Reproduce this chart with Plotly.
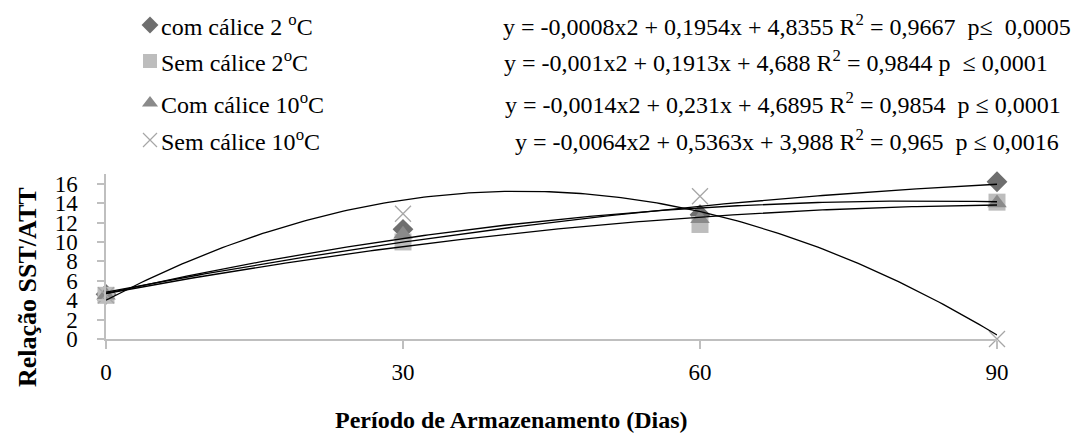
import plotly.graph_objects as go
import numpy as np

# ---- data ----
days = [0, 30, 60, 90]
com_2 = [4.6, 11.3, 12.8, 16.2]
sem_2 = [4.5, 10.0, 11.8, 14.1]
com_10 = [4.5, 10.8, 12.4, 14.0]
sem_10 = [4.5, 12.9, 14.7, 0.0]

series_names = ["com cálice 2 <sup>o</sup>C", "Sem cálice 2<sup>o</sup>C",
                "Com cálice 10<sup>o</sup>C", "Sem cálice 10<sup>o</sup>C"]
# quadratic trendline coefficients (a, b, c) as printed
coef_a = [-0.0008, -0.001, -0.0014, -0.0064]
coef_b = [0.1954, 0.1913, 0.231, 0.5363]
coef_c = [4.8355, 4.688, 4.6895, 3.988]
equations = [
    "y = -0,0008x2 + 0,1954x + 4,8355 R<sup>2</sup> = 0,9667  p≤  0,0005",
    "y = -0,001x2 + 0,1913x + 4,688 R<sup>2</sup> = 0,9844 p  ≤ 0,0001",
    "y = -0,0014x2 + 0,231x + 4,6895 R<sup>2</sup> = 0,9854  p ≤ 0,0001",
    "y = -0,0064x2 + 0,5363x + 3,988 R<sup>2</sup> = 0,965  p ≤ 0,0016",
]
y_ticks = [0, 2, 4, 6, 8, 10, 12, 14, 16]
x_ticks = [0, 30, 60, 90]

FONT = "Liberation Serif"
W, H = 1085, 433
L, R, T, B = 98, 989, 166, 331  # plot area pixel box

markers = [
    dict(symbol="diamond", size=16, color="#6e6e6e"),
    dict(symbol="square", size=17, color="#bdbdbd"),
    dict(symbol="triangle-up", size=17, color="#8a8a8a"),
    dict(symbol="x-thin", size=16, color="#a6a6a6", line=dict(width=1.3, color="#a6a6a6")),
]
data = [com_2, sem_2, com_10, sem_10]

fig = go.Figure()
for vals, mk in zip(data, markers):
    fig.add_trace(go.Scatter(x=days, y=vals, mode="markers", marker=mk,
                             showlegend=False, cliponaxis=False, hoverinfo="skip"))

xx = np.linspace(0, 90, 200)
for a, b, c in zip(coef_a, coef_b, coef_c):
    fig.add_trace(go.Scatter(x=xx, y=a * xx**2 + b * xx + c, mode="lines",
                             line=dict(color="black", width=1.3),
                             showlegend=False, cliponaxis=False, hoverinfo="skip"))

# legend block on a full-figure pixel overlay axis
leg_y = [17, 53, 95, 132]
leg_x = 142
small = [dict(symbol="diamond", size=13, color="#6e6e6e"),
         dict(symbol="square", size=14, color="#bdbdbd"),
         dict(symbol="triangle-up", size=14, color="#8a8a8a"),
         dict(symbol="x-thin", size=14, color="#a6a6a6", line=dict(width=1.2, color="#a6a6a6"))]
for yy, mk in zip(leg_y, small):
    fig.add_trace(go.Scatter(x=[leg_x], y=[yy], mode="markers", marker=mk,
                             xaxis="x2", yaxis="y2", showlegend=False,
                             cliponaxis=False, hoverinfo="skip"))

eq_end = [1065, 1042, 1055, 1053]
annotations = []
def pp(px, py):
    return px / W, 1 - py / H

for name, yy in zip(series_names, leg_y):
    xp, yp = pp(leg_x + 9, yy)
    annotations.append(dict(x=xp, y=yp, xref="paper", yref="paper", text=name,
                            showarrow=False, xanchor="left", yanchor="middle",
                            font=dict(family=FONT, size=24, color="#000")))
for eq, yy, ex in zip(equations, leg_y, eq_end):
    xp, yp = pp(ex, yy)
    annotations.append(dict(x=xp, y=yp, xref="paper", yref="paper", text=eq,
                            showarrow=False, xanchor="right", yanchor="middle",
                            font=dict(family=FONT, size=24, color="#000")))
# axis titles
xp, yp = pp(503, 412)
annotations.append(dict(x=xp, y=yp, xref="paper", yref="paper",
                        text="<b>Período de Armazenamento (Dias)</b>", showarrow=False,
                        xanchor="center", yanchor="middle",
                        font=dict(family=FONT, size=24, color="#000")))
xp, yp = pp(19, 279)
annotations.append(dict(x=xp, y=yp, xref="paper", yref="paper",
                        text="<b>Relação SST/ATT</b>", showarrow=False, textangle=-90,
                        xanchor="center", yanchor="middle",
                        font=dict(family=FONT, size=26, color="#000")))

fig.update_layout(
    width=W, height=H,
    margin=dict(l=0, r=0, t=0, b=0, pad=0),
    paper_bgcolor="white", plot_bgcolor="rgba(0,0,0,0)",
    xaxis=dict(domain=[L / W, R / W], anchor="y", range=[0, 90], tickvals=x_ticks,
               ticktext=[str(v) for v in x_ticks], automargin=False,
               showgrid=False, zeroline=False, showline=True, linecolor="#bfbfbf",
               linewidth=1.5, ticks="outside", ticklen=8, tickcolor="#bfbfbf",
               tickwidth=1.5, ticklabelstandoff=4,
               tickfont=dict(family=FONT, size=23, color="#000")),
    yaxis=dict(domain=[1 - B / H, 1 - T / H], anchor="x", range=[0, 17], tickvals=y_ticks,
               automargin=False, showgrid=False, zeroline=False,
               showline=True, linecolor="#bfbfbf", linewidth=1.5, ticks="outside",
               ticklen=7, tickcolor="#bfbfbf", tickwidth=1.5, ticklabelstandoff=15,
               tickfont=dict(family=FONT, size=23, color="#000")),
    xaxis2=dict(domain=[0, 1], anchor="y2", range=[0, W], visible=False, automargin=False),
    yaxis2=dict(domain=[0, 1], anchor="x2", range=[H, 0], visible=False, automargin=False),
    annotations=annotations,
)

fig.write_html("out.html")
